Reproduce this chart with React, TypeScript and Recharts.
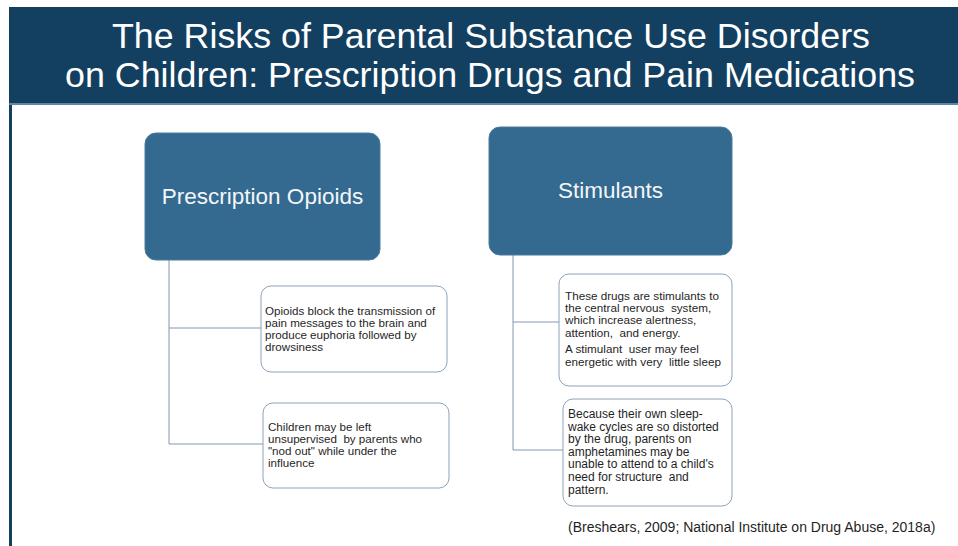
import { Surface, Layer, Rectangle } from 'recharts'

const TITLE_LINES = [
  'The Risks of Parental Substance Use Disorders',
  'on Children: Prescription Drugs and Pain Medications'
]

const HEADINGS = ['Prescription Opioids', 'Stimulants']

// each point is a list of paragraphs, each paragraph a list of lines
const OPIOID_POINTS = [
  [[
    'Opioids block the transmission of',
    'pain messages to the brain and',
    'produce euphoria followed by',
    'drowsiness'
  ]],
  [[
    'Children may be left',
    'unsupervised  by parents who',
    '"nod out" while under the',
    'influence'
  ]]
]

const STIMULANT_POINTS = [
  [
    [
      'These drugs are stimulants to',
      'the central nervous  system,',
      'which increase alertness,',
      'attention,  and energy.'
    ],
    ['A stimulant  user may feel', 'energetic with very  little sleep']
  ],
  [[
    'Because their own sleep-',
    'wake cycles are so distorted',
    'by the drug, parents on',
    'amphetamines may be',
    "unable to attend to a child's",
    'need for structure  and',
    'pattern.'
  ]]
]

const CITATION = '(Breshears, 2009; National Institute on Drug Abuse, 2018a)'

const FONT = '"Liberation Sans", Arial, Helvetica, sans-serif'
const NAVY = '#133f60'
const HEAD_FILL = '#346a8f'
const BOX_STROKE = '#8fa3bb'
const LINK = '#8398af'

const W = 958
const H = 546

const COLUMNS = [
  {
    head: { x: 145, y: 133, w: 235, h: 127, textY: 204, size: 22.5 },
    trunkX: 169,
    points: OPIOID_POINTS,
    boxes: [
      { x: 261, y: 286, w: 186, h: 86, tx: 265, ty: 314.5, lh: 12, size: 11.6, wide: 176, linkY: 328 },
      { x: 263, y: 403, w: 186, h: 85, tx: 268, ty: 431, lh: 12, size: 11.6, linkY: 444 }
    ]
  },
  {
    head: { x: 489, y: 127, w: 243, h: 128, textY: 198, size: 22.5 },
    trunkX: 513,
    points: STIMULANT_POINTS,
    boxes: [
      { x: 559, y: 274, w: 173, h: 112, tx: 565, ty: 300, lh: 12.2, size: 11.7, linkY: 322, gap: 4.5 },
      { x: 563, y: 399, w: 169, h: 107, tx: 568, ty: 418, lh: 12.6, size: 12, linkY: 450 }
    ]
  }
]

function PointText({ paragraphs, box }: { paragraphs: string[][]; box: any }) {
  const rows: { text: string; y: number }[] = []
  let y = box.ty
  paragraphs.forEach((para, pi) => {
    if (pi > 0) y += box.gap || 0
    para.forEach((line) => {
      rows.push({ text: line, y })
      y += box.lh
    })
  })
  return (
    <g>
      {rows.map((r, i) => (
        <text
          key={i}
          x={box.tx}
          y={r.y}
          fontSize={box.size}
          fontFamily={FONT}
          fill="#1f1f1f"
          style={{ whiteSpace: 'pre' }}
        >
          {r.text}
        </text>
      ))}
    </g>
  )
}

export default function App() {
  return (
    <div style={{ position: 'absolute', left: 0, top: 0, width: W, height: H, background: '#fff' }}>
      <Surface width={W} height={H}>
        {/* title band */}
        <Layer>
          <rect x={9} y={7} width={W - 9} height={96} fill={NAVY} />
          <rect x={9} y={103} width={W - 9} height={2} fill="#5f87a5" />
          <rect x={9} y={105} width={3} height={H - 105} fill={NAVY} />
          <text
            x={491}
            y={47.5}
            textAnchor="middle"
            fontSize={34.5}
            fontFamily={FONT}
            fill="#ffffff"
            textLength={758}
            lengthAdjust="spacingAndGlyphs"
          >
            {TITLE_LINES[0]}
          </text>
          <text
            x={490}
            y={87}
            textAnchor="middle"
            fontSize={34.5}
            fontFamily={FONT}
            fill="#ffffff"
            textLength={850}
            lengthAdjust="spacingAndGlyphs"
          >
            {TITLE_LINES[1]}
          </text>
        </Layer>

        {COLUMNS.map((col, ci) => {
          const lastY = col.boxes[col.boxes.length - 1].linkY
          return (
            <Layer key={ci}>
              {/* connectors */}
              <line
                x1={col.trunkX}
                y1={col.head.y + col.head.h}
                x2={col.trunkX}
                y2={lastY}
                stroke={LINK}
                strokeWidth={1}
              />
              {col.boxes.map((b, bi) => (
                <line
                  key={bi}
                  x1={col.trunkX}
                  y1={b.linkY}
                  x2={b.x}
                  y2={b.linkY}
                  stroke={LINK}
                  strokeWidth={1}
                />
              ))}

              {/* heading */}
              <Rectangle
                x={col.head.x}
                y={col.head.y}
                width={col.head.w}
                height={col.head.h}
                radius={11}
                fill={HEAD_FILL}
                stroke="#4a7b9c"
                strokeWidth={1}
              />
              <text
                x={col.head.x + col.head.w / 2}
                y={col.head.textY}
                textAnchor="middle"
                fontSize={col.head.size}
                fontFamily={FONT}
                fill="#f3f6f9"
              >
                {HEADINGS[ci]}
              </text>

              {/* detail boxes */}
              {col.boxes.map((b, bi) => (
                <g key={bi}>
                  <Rectangle
                    x={b.x}
                    y={b.y}
                    width={b.w}
                    height={b.h}
                    radius={10}
                    fill="#ffffff"
                    stroke={BOX_STROKE}
                    strokeWidth={1}
                  />
                  <PointText paragraphs={col.points[bi]} box={b} />
                </g>
              ))}
            </Layer>
          )
        })}

        <text x={568} y={532} fontSize={14} fontFamily={FONT} fill="#1f1f1f">
          {CITATION}
        </text>
      </Surface>
    </div>
  )
}
